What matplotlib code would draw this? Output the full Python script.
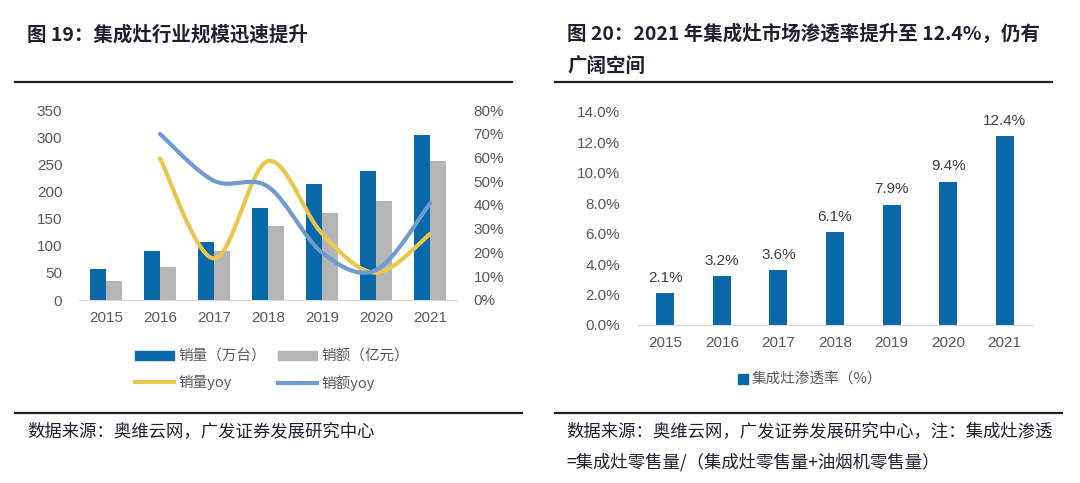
import numpy as np
import matplotlib
matplotlib.use("Agg")
import matplotlib.pyplot as plt
from matplotlib.lines import Line2D
from matplotlib.patches import Patch

plt.rcParams["font.family"] = ["Liberation Sans", "Noto Sans CJK SC", "DejaVu Sans"]

# ---- data ----
years = ["2015", "2016", "2017", "2018", "2019", "2020", "2021"]
sales_volume = [56.5, 90.3, 106.2, 168.9, 213.0, 238.2, 304.6]   # 万台
sales_value = [35.6, 60.2, 90.9, 135.7, 160.3, 182.4, 256.0]     # 亿元
volume_yoy = [None, 59.6, 17.5, 58.5, 28.0, 11.5, 27.8]          # %
value_yoy = [None, 69.9, 50.2, 47.7, 20.0, 12.6, 40.7]           # %
penetration = [2.1, 3.2, 3.6, 6.1, 7.9, 9.4, 12.4]               # %

BLUE = "#0868a8"
GRAY = "#b5b5b5"
YELLOW = "#e9c64c"
LBLUE = "#6f9bd0"
TICK = "#595959"
DARK = "#1f1f2e"
CJK = ["Noto Sans CJK SC", "DejaVu Sans"]


def smooth(xs, ys, n=40):
    # Catmull-Rom curve through the points, similar to Excel smoothed lines
    pts = np.column_stack([xs, ys]).astype(float)
    out = []
    for i in range(len(pts) - 1):
        p0 = pts[i - 1] if i > 0 else pts[i]
        p1 = pts[i]
        p2 = pts[i + 1]
        p3 = pts[i + 2] if i + 2 < len(pts) else pts[i + 1]
        c1 = p1 + (p2 - p0) / 6
        c2 = p2 - (p3 - p1) / 6
        t = np.linspace(0, 1, n)[:, None]
        seg = ((1 - t) ** 3) * p1 + 3 * ((1 - t) ** 2) * t * c1 + 3 * (1 - t) * t ** 2 * c2 + t ** 3 * p2
        out.append(seg)
    arr = np.vstack(out)
    return arr[:, 0], arr[:, 1]


W, H = 1080, 483
fig = plt.figure(figsize=(W / 100, H / 100), dpi=100)


def px_axes(x0, y_top, x1, y_bottom):
    return fig.add_axes([x0 / W, 1 - y_bottom / H, (x1 - x0) / W, (y_bottom - y_top) / H])


def rule(x0, x1, y):
    fig.add_artist(Line2D([x0 / W, x1 / W], [1 - y / H, 1 - y / H], color="#222222", lw=1.6))


# ---- titles / rules / sources ----
fig.text(27 / W, 1 - 35 / H, "图 19：集成灶行业规模迅速提升", family=CJK, fontsize=14,
         fontweight="bold", color=DARK, va="center")
fig.text(567 / W, 1 - 34 / H, "图 20：2021 年集成灶市场渗透率提升至 12.4%，仍有", family=CJK,
         fontsize=14, fontweight="bold", color=DARK, va="center")
fig.text(567 / W, 1 - 66 / H, "广阔空间", family=CJK, fontsize=14, fontweight="bold",
         color=DARK, va="center")
rule(15, 512, 82)
rule(555, 1052, 82)
rule(15, 522, 413)
rule(555, 1062, 413)
fig.text(27 / W, 1 - 431 / H, "数据来源：奥维云网，广发证券发展研究中心", family=CJK,
         fontsize=12.5, color=DARK, va="center")
fig.text(566 / W, 1 - 431 / H, "数据来源：奥维云网，广发证券发展研究中心，注：集成灶渗透",
         family=CJK, fontsize=12.5, color=DARK, va="center")
fig.text(566 / W, 1 - 462 / H, "=集成灶零售量/（集成灶零售量+油烟机零售量）",
         family=CJK, fontsize=12.5, color=DARK, va="center")

# ---- left chart ----
ax = px_axes(79, 110, 457, 300)
x = np.arange(len(years))
bw = 0.29
ax.bar(x - bw / 2, sales_volume, bw, color=BLUE, label="销量（万台）")
ax.bar(x + bw / 2, sales_value, bw, color=GRAY, label="销额（亿元）")
ax.set_xlim(-0.5, len(years) - 0.5)
ax.set_ylim(0, 350)
ax.set_yticks(range(0, 351, 50))
ax.set_xticks(x)
ax.set_xticklabels(years)
for s in ["top", "left", "right"]:
    ax.spines[s].set_visible(False)
ax.spines["bottom"].set_color("#d9d9d9")
ax.tick_params(length=0, labelsize=11, labelcolor=TICK)
ax.tick_params(axis="x", pad=8)
ax.tick_params(axis="y", pad=12)

ax2 = ax.twinx()
ax2.set_ylim(0, 80)
ax2.set_yticks(range(0, 81, 10))
ax2.set_yticklabels([f"{v}%" for v in range(0, 81, 10)])
for s in ["top", "left", "right", "bottom"]:
    ax2.spines[s].set_visible(False)
ax2.tick_params(length=0, labelsize=11, labelcolor=TICK, pad=12)
xv, yv = smooth(x[1:], volume_yoy[1:])
ax2.plot(xv, yv, color=YELLOW, lw=3, solid_capstyle="round")
xs, ys = smooth(x[1:], value_yoy[1:])
ax2.plot(xs, ys, color=LBLUE, lw=3, solid_capstyle="round")

handles = [Patch(color=BLUE), Line2D([], [], color=YELLOW, lw=3),
           Patch(color=GRAY), Line2D([], [], color=LBLUE, lw=3)]
labels = ["销量（万台）", "销量yoy", "销额（亿元）", "销额yoy"]
fig.legend(handles, labels, ncol=2, loc="center", bbox_to_anchor=(272 / W, 1 - 370 / H),
           frameon=False, prop={"family": CJK, "size": 10.5}, labelcolor=TICK,
           handlelength=2.7, handleheight=0.55, handletextpad=0.3, columnspacing=0.8,
           labelspacing=0.8)

# ---- right chart ----
bx = px_axes(637, 111.7, 1033, 325)
bars = bx.bar(x, penetration, 0.32, color=BLUE, label="集成灶渗透率（%）")
bx.bar_label(bars, labels=[f"{v:.1f}%" for v in penetration], padding=6, fontsize=11,
             color="#404040")
bx.set_xlim(-0.5, len(years) - 0.5)
bx.set_ylim(0, 14)
bx.set_yticks(np.arange(0, 14.1, 2))
bx.set_yticklabels([f"{v:.1f}%" for v in np.arange(0, 14.1, 2)])
bx.set_xticks(x)
bx.set_xticklabels(years)
for s in ["top", "left", "right"]:
    bx.spines[s].set_visible(False)
bx.spines["bottom"].set_color("#d9d9d9")
bx.tick_params(length=0, labelsize=11, labelcolor=TICK)
bx.tick_params(axis="x", pad=8)
bx.tick_params(axis="y", pad=12)
fig.legend([Line2D([], [], ls="", marker="s", color=BLUE, markersize=7)], ["集成灶渗透率（%）"],
           loc="center", bbox_to_anchor=(810 / W, 1 - 380 / H), frameon=False,
           prop={"family": CJK, "size": 10.5}, labelcolor=TICK, handlelength=0.8,
           handletextpad=0.2)

fig.savefig("out.png", dpi=100)
